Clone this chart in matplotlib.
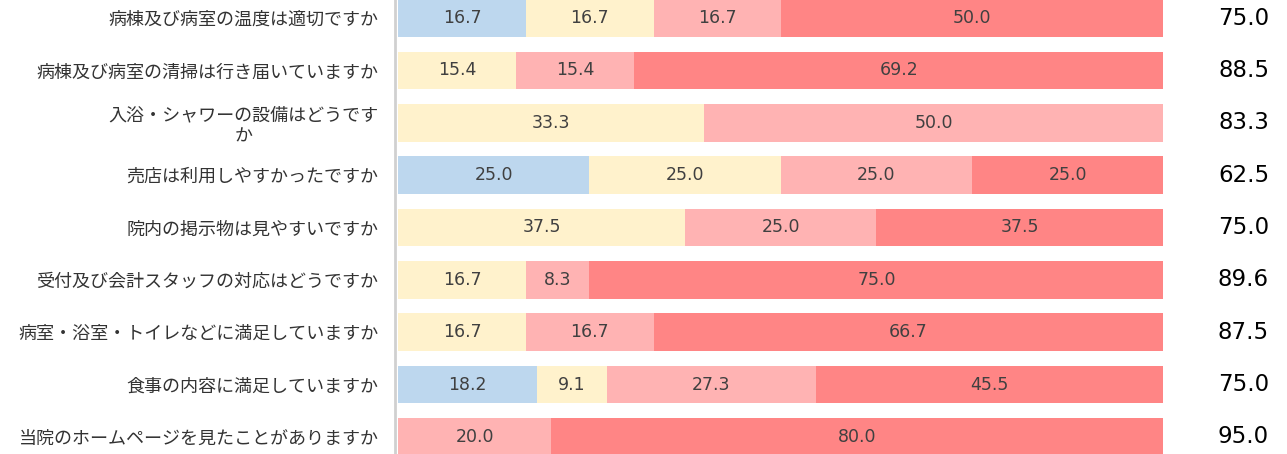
import matplotlib.pyplot as plt
import numpy as np

plt.rcParams['font.family'] = ['Noto Sans CJK JP', 'DejaVu Sans']

questions = [
    "病棟及び病室の温度は適切ですか",
    "病棟及び病室の清掃は行き届いていますか",
    "入浴・シャワーの設備はどうです\nか",
    "売店は利用しやすかったですか",
    "院内の掲示物は見やすいですか",
    "受付及び会計スタッフの対応はどうですか",
    "病室・浴室・トイレなどに満足していますか",
    "食事の内容に満足していますか",
    "当院のホームページを見たことがありますか",
]
# four answer levels, from worst to best
level1 = [16.7, 0, 0, 25.0, 0, 0, 0, 18.2, 0]
level2 = [16.7, 15.4, 33.3, 25.0, 37.5, 16.7, 16.7, 9.1, 0]
level3 = [16.7, 15.4, 50.0, 25.0, 25.0, 8.3, 16.7, 27.3, 20.0]
level4 = [50.0, 69.2, 0, 25.0, 37.5, 75.0, 66.7, 45.5, 80.0]
scores = [75.0, 88.5, 83.3, 62.5, 75.0, 89.6, 87.5, 75.0, 95.0]

colors = ['#BDD7EE', '#FFF2CC', '#FFB3B3', '#FF8585']

fig = plt.figure(figsize=(12.87, 4.54), dpi=100)
ax = fig.add_axes([0.307, 0, 0.597, 1])

vals = np.array([level1, level2, level3, level4])
totals = vals.sum(axis=0)
widths = vals / totals * 100
y = np.arange(len(questions))

left = np.zeros(len(questions))
for k in range(4):
    ax.barh(y, widths[k], left=left, height=0.72, color=colors[k], linewidth=0)
    for i in range(len(questions)):
        if vals[k, i] > 0:
            ax.text(left[i] + widths[k, i] / 2, y[i], f"{vals[k, i]:.1f}",
                    ha='center', va='center', fontsize=12.5, color='#404040',
                    family=['DejaVu Sans'])
    left += widths[k]

for i, s in enumerate(scores):
    ax.text(113.8, y[i], f"{s:.1f}", ha='right', va='center', fontsize=16.5,
            color='black', family=['DejaVu Sans'], clip_on=False)

ax.set_xlim(-0.4, 100)
ax.set_ylim(8.325, -0.344)
ax.set_yticks(y)
ax.set_yticklabels(questions, fontsize=13, color='#333333', multialignment='center')
ax.tick_params(axis='y', length=0, pad=12)
ax.set_xticks([])
for side in ['top', 'right', 'bottom']:
    ax.spines[side].set_visible(False)
ax.spines['left'].set_color('#D0D0D0')
ax.spines['left'].set_linewidth(2)

fig.savefig('out.png', dpi=100)
